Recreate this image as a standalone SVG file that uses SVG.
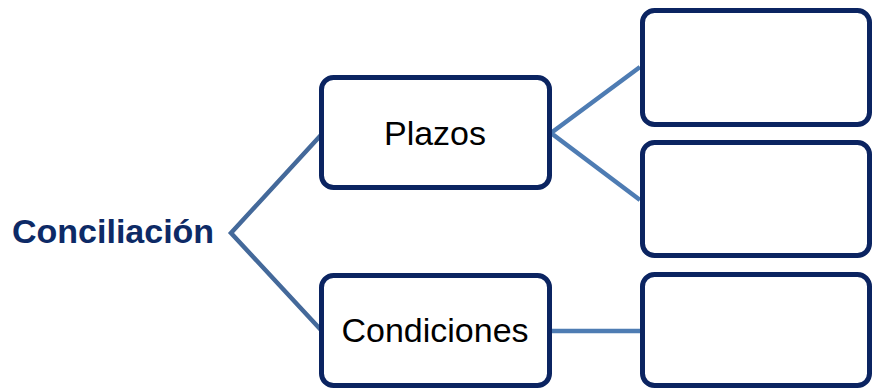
<svg xmlns="http://www.w3.org/2000/svg" width="872" height="390" viewBox="0 0 872 390">
<style>
.box{fill:#ffffff;stroke:#0b2461;stroke-width:5}
.lbl{font-family:"Liberation Sans",Arial,sans-serif;font-size:34px;fill:#000000;text-anchor:middle}
.root{font-family:"Liberation Sans",Arial,sans-serif;font-size:34px;font-weight:bold;fill:#0d2a66}
.c1{fill:none;stroke:#44699a;stroke-width:4.5}
.c2{fill:none;stroke:#4e7cb3;stroke-width:4.5}
</style>
<rect width="872" height="390" fill="#ffffff"/>
<g id="connectors">
<polyline class="c1" points="321,135 231,233 321,330"/>
<polyline class="c2" points="640,67 551,133 640,200"/>
<line class="c2" x1="551" y1="331" x2="640" y2="331"/>
</g>
<g id="conciliacion">
<text class="root" x="12" y="243">Conciliación</text>
</g>
<g id="plazos">
<rect class="box" x="321.5" y="77.5" width="228" height="110" rx="12"/>
<text class="lbl" x="435" y="145">Plazos</text>
</g>
<g id="condiciones">
<rect class="box" x="321.5" y="275.5" width="228" height="110" rx="12"/>
<text class="lbl" x="435" y="342">Condiciones</text>
</g>
<g id="box1">
<rect class="box" x="642.5" y="10.5" width="227" height="114" rx="12"/>
</g>
<g id="box2">
<rect class="box" x="642.5" y="142.5" width="227" height="113" rx="12"/>
</g>
<g id="box3">
<rect class="box" x="642.5" y="274.5" width="227" height="111" rx="12"/>
</g>
</svg>
